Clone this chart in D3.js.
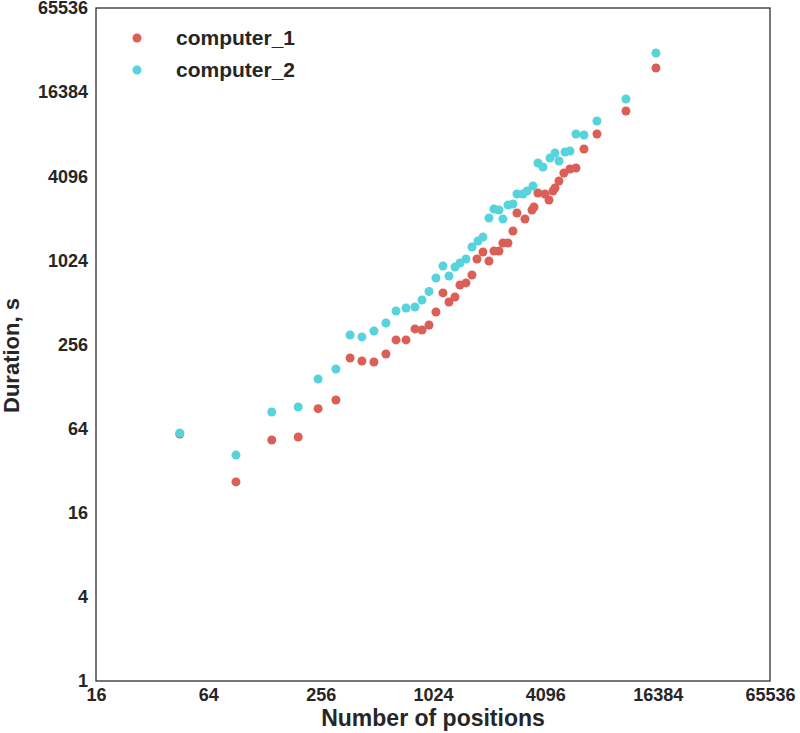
<!DOCTYPE html>
<html>
<head>
<meta charset="utf-8">
<script src="https://cdn.jsdelivr.net/npm/d3@7"></script>
<style>
  body { margin: 0; background: #fff; }
  svg { font-family: "Liberation Sans", Arial, sans-serif; }
</style>
</head>
<body>
<div id="chart"></div>
<script>
// series data
const c1Positions = [45, 90, 140, 194, 248, 309, 368, 426, 494, 573, 649, 734, 820, 894, 975, 1062, 1158, 1247, 1343, 1428, 1538, 1656, 1762, 1897, 2043, 2173, 2312, 2428, 2583, 2747, 2886, 3186, 3474, 3560, 3739, 4078, 4285, 4501, 4614, 4846, 5150, 5552, 5978, 6598, 7747, 11080, 16042];
const c1Durations = [58.6, 26.6, 53.1, 55.8, 88.9, 102.6, 205, 195, 192, 219, 276, 276, 331, 325, 353, 437, 599, 516, 560, 683, 706, 805, 1048, 1176, 1014, 1195, 1195, 1364, 1364, 1662, 2237, 2026, 2350, 2469, 3109, 3059, 2771, 3214, 3376, 3790, 4324, 4618, 4695, 6420, 8220, 12012, 24396];

const c2Positions = [45, 90, 140, 194, 248, 309, 368, 426, 494, 573, 649, 734, 820, 894, 975, 1062, 1158, 1247, 1343, 1428, 1538, 1656, 1784, 1897, 2043, 2173, 2312, 2428, 2583, 2747, 2886, 3108, 3266, 3517, 3739, 3978, 4338, 4614, 4846, 5221, 5552, 5978, 6598, 7747, 11080, 16042];
const c2Durations = [59.6, 41.4, 84.2, 91.4, 145, 171, 299.5, 290, 320, 365, 445, 467, 475, 533, 613, 766, 934, 792, 918, 981, 1048, 1277, 1410, 1506, 2060, 2389, 2350, 2026, 2551, 2594, 3059, 3059, 3214, 3490, 5098, 4773, 5537, 6011, 5268, 6111, 6213, 8220, 8085, 10185, 14635, 31240];

const seriesNames = ["computer_1", "computer_2"];
const xTicks = [16, 64, 256, 1024, 4096, 16384, 65536];
const yTicks = [1, 4, 16, 64, 256, 1024, 4096, 16384, 65536];

const margin = { top: 8, right: 30, bottom: 52, left: 96 };
const width = 674;
const height = 673;

const svg = d3.select("#chart")
  .append("svg")
  .attr("width", 800)
  .attr("height", 733)
  .append("g")
  .attr("transform", `translate(${margin.left},${margin.top})`);

const x = d3.scaleLog().base(2).domain([16, 65536]).range([0, width]);
const y = d3.scaleLog().base(2).domain([1, 65536]).range([height, 0]);

const color = d3.scaleOrdinal()
  .domain(seriesNames)
  .range(["#db5f57", "#57d3db"]);

// axes, labels only
const xAxis = svg.append("g")
  .attr("transform", `translate(0,${height})`)
  .call(d3.axisBottom(x).tickValues(xTicks).tickFormat(d3.format("d")).tickSize(0).tickPadding(7));
const yAxis = svg.append("g")
  .call(d3.axisLeft(y).tickValues(yTicks).tickFormat(d3.format("d")).tickSize(0).tickPadding(8));

[xAxis, yAxis].forEach(a => {
  a.select(".domain").remove();
  a.selectAll("text")
    .attr("fill", "#262626")
    .style("font-size", "18px")
    .style("font-weight", "bold")
    .style("font-family", "'Liberation Sans', Arial, sans-serif");
});

// frame
svg.append("rect")
  .attr("width", width)
  .attr("height", height)
  .attr("fill", "none")
  .attr("stroke", "#262626")
  .attr("stroke-width", 1.25);

const series = [
  { name: seriesNames[0], pos: c1Positions, dur: c1Durations },
  { name: seriesNames[1], pos: c2Positions, dur: c2Durations }
];

svg.append("g")
  .selectAll("g")
  .data(series)
  .join("g")
  .attr("fill", d => color(d.name))
  .selectAll("circle")
  .data(d => d.pos.map((p, i) => [p, d.dur[i]]))
  .join("circle")
  .attr("cx", d => x(d[0]))
  .attr("cy", d => y(d[1]))
  .attr("r", 4.5);

// axis titles
svg.append("text")
  .attr("x", width / 2)
  .attr("y", height + 45)
  .attr("text-anchor", "middle")
  .attr("fill", "#262626")
  .style("font-size", "23px")
  .style("font-weight", "bold")
  .text("Number of positions");

svg.append("text")
  .attr("transform", `translate(${-77},${height / 2 + 11}) rotate(-90)`)
  .attr("text-anchor", "middle")
  .attr("fill", "#262626")
  .style("font-size", "22px")
  .style("font-weight", "bold")
  .text("Duration, s");

// Legend
const legend = svg.selectAll(".legend")
  .data(seriesNames)
  .join("g")
  .attr("class", "legend")
  .attr("transform", (d, i) => `translate(41,${30 + i * 32})`);

legend.append("circle")
  .attr("r", 4.5)
  .attr("fill", d => color(d));

legend.append("text")
  .attr("x", 39)
  .attr("dy", "0.35em")
  .attr("fill", "#262626")
  .style("font-size", "21px")
  .style("font-weight", "bold")
  .text(d => d);
</script>
</body>
</html>
